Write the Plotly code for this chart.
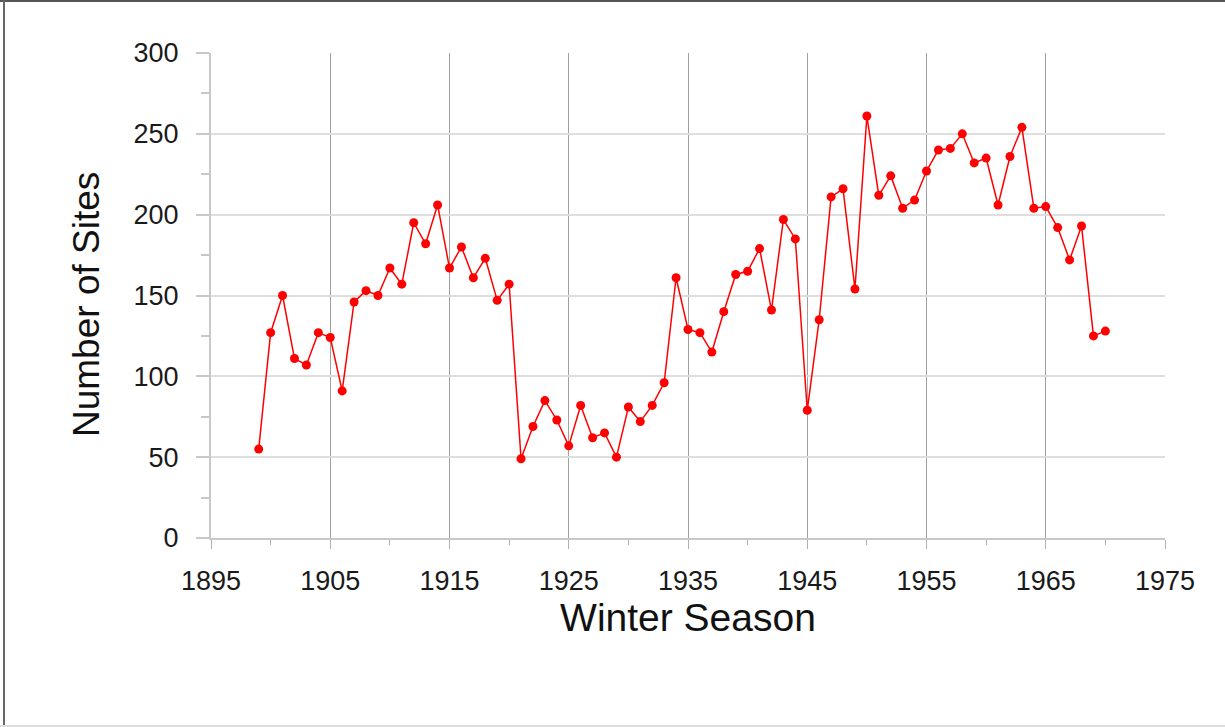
import plotly.graph_objects as go

years = list(range(1899, 1971))
sites = [55, 127, 150, 111, 107, 127, 124, 91, 146, 153,
         150, 167, 157, 195, 182, 206, 167, 180, 161, 173,
         147, 157, 49, 69, 85, 73, 57, 82, 62, 65,
         50, 81, 72, 82, 96, 161, 129, 127, 115, 140,
         163, 165, 179, 141, 197, 185, 79, 135, 211, 216,
         154, 261, 212, 224, 204, 209, 227, 240, 241, 250,
         232, 235, 206, 236, 254, 204, 205, 192, 172, 193,
         125, 128]

x_ticks = list(range(1895, 1976, 10))
y_ticks = list(range(0, 301, 50))

W, H = 1225, 727
L, R, T, B = 211, 60, 53, 189
pw, ph = W - L - R, H - T - B

fig = go.Figure()
fig.add_trace(go.Scatter(
    x=years, y=sites, mode="lines+markers",
    line=dict(color="#ff0000", width=1.5),
    marker=dict(color="#ff0000", size=9, symbol="circle"),
    showlegend=False, hoverinfo="x+y"))

font = "Liberation Sans, Arial, Helvetica, sans-serif"

def px_x(p):
    return (p - L) / pw

def px_y(p):
    return 1 - (p - T) / ph

fig.update_layout(
    width=W, height=H,
    margin=dict(l=L, r=R, t=T, b=B, pad=0),
    paper_bgcolor="white", plot_bgcolor="white",
    font=dict(family=font, color="#1a1a1a"),
    xaxis=dict(
        range=[1895, 1975], tickvals=x_ticks, ticktext=[str(v) for v in x_ticks],
        showgrid=True, gridcolor="#a0a0a0", gridwidth=1,
        showline=True, linecolor="#c8c8c8", linewidth=2,
        ticks="outside", ticklen=9, tickcolor="#b0b0b0", tickwidth=1,
        ticklabelstandoff=9,
        minor=dict(dtick=5, tick0=1895, ticks="outside", ticklen=5,
                   tickcolor="#b0b0b0", showgrid=False),
        tickfont=dict(size=27, family=font, color="#1a1a1a"),
        title=dict(text="Winter Season", font=dict(size=39, family=font, color="#111"),
                   standoff=4),
        zeroline=False, fixedrange=True,
    ),
    yaxis=dict(
        range=[0, 300], tickvals=y_ticks, ticktext=[str(v) for v in y_ticks],
        showgrid=True, gridcolor="#dedede", gridwidth=2,
        showline=True, linecolor="#c8c8c8", linewidth=2,
        ticks="outside", ticklen=13, tickcolor="#c8c8c8", tickwidth=2,
        ticklabelstandoff=12,
        minor=dict(dtick=25, tick0=0, ticks="outside", ticklen=8,
                   tickcolor="#c8c8c8", showgrid=False),
        tickfont=dict(size=27, family=font, color="#1a1a1a"),
        zeroline=False, fixedrange=True,
    ),
    annotations=[dict(
        text="Number of Sites", textangle=-90, showarrow=False,
        xref="paper", yref="paper", x=px_x(86), y=px_y(304),
        xanchor="center", yanchor="middle",
        font=dict(size=37, family=font, color="#111"))],
)

# figure frame (dark top/left edges, light bottom edge)
fig.add_shape(type="line", xref="paper", yref="paper",
              x0=px_x(0), x1=px_x(W), y0=px_y(1), y1=px_y(1),
              line=dict(color="#555555", width=2))
fig.add_shape(type="line", xref="paper", yref="paper",
              x0=px_x(4), x1=px_x(4), y0=px_y(0), y1=px_y(H),
              line=dict(color="#666666", width=2))
fig.add_shape(type="line", xref="paper", yref="paper",
              x0=px_x(0), x1=px_x(W), y0=px_y(H - 1), y1=px_y(H - 1),
              line=dict(color="#dddddd", width=2))

fig.write_html("out.html", config={"displayModeBar": False},
               post_script="document.body.style.margin='0';document.body.style.padding='0';")
